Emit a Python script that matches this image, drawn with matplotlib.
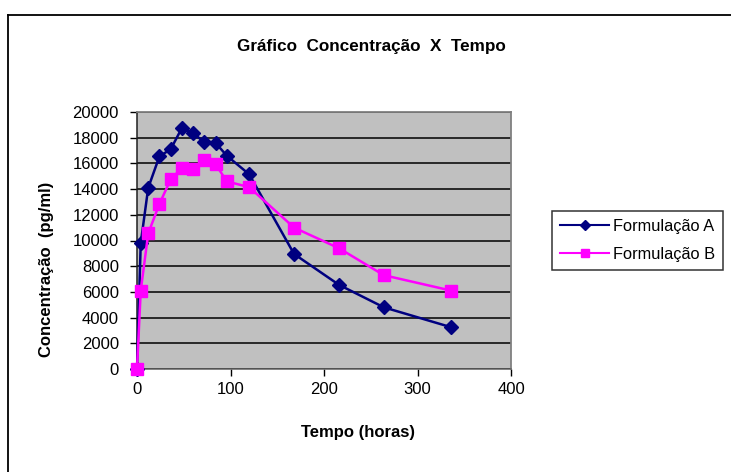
import matplotlib
matplotlib.use("Agg")
from matplotlib import pyplot as plt
from matplotlib.lines import Line2D

plt.rcParams['font.family'] = ['Liberation Sans', 'DejaVu Sans']

# tempo (horas)
tempo = [0, 4, 12, 24, 36, 48, 60, 72, 84, 96, 120, 168, 216, 264, 336]
# concentração (pg/ml)
form_a = [0, 9800, 14100, 16550, 17100, 18750, 18350, 17650, 17600, 16600, 15150, 8950, 6550, 4800, 3250]
form_b = [0, 6100, 10550, 12850, 14750, 15650, 15600, 16250, 15950, 14600, 14150, 11000, 9400, 7300, 6100]
nomes = ["Formulação A", "Formulação B"]
yticks = list(range(0, 20001, 2000))
xticks = [0, 100, 200, 300, 400]

W, H = 731, 472
fig = plt.figure(figsize=(W/100, H/100), dpi=100)
fig.patch.set_facecolor('white')

# moldura externa do gráfico
fig.add_artist(Line2D([8/W, 8/W], [0, 1-15/H], color='black', lw=1.3))
fig.add_artist(Line2D([8/W, 1], [1-15/H, 1-15/H], color='black', lw=1.3))

ax = fig.add_axes([137/W, 1-369/H, (511-137)/W, (369-112)/H])
ax.set_facecolor('#C0C0C0')

ax.plot(tempo, form_a, color='#000080', lw=1.8, marker='D', ms=7.5,
        mfc='#000080', mec='#000080', zorder=3, clip_on=False)
ax.plot(tempo, form_b, color='#FF00FF', lw=1.8, marker='s', ms=8.5,
        mfc='#FF00FF', mec='#FF00FF', zorder=4, clip_on=False)

ax.set_xlim(0, 400)
ax.set_ylim(0, 20000)
ax.set_xticks(xticks)
ax.set_yticks(yticks)
ax.set_yticklabels([str(v) for v in yticks])
ax.yaxis.grid(True, color='black', lw=1.1)
ax.set_axisbelow(True)
ax.tick_params(axis='both', direction='out', length=5, width=1, colors='black',
               labelsize=12)
ax.tick_params(axis='y', pad=8)
ax.tick_params(axis='x', pad=4)
for s in ['top', 'right']:
    ax.spines[s].set_color('#808080')
    ax.spines[s].set_linewidth(1.3)
ax.spines['left'].set_color('#202020')
ax.spines['bottom'].set_color('#606060')
ax.spines['left'].set_linewidth(1.1)
ax.spines['bottom'].set_linewidth(1.1)

fig.text(371/W, 1-47/H, "Gráfico  Concentração  X  Tempo", ha='center', va='center',
         fontsize=12.3, fontweight='bold')
fig.text(47/W, 1-269/H, "Concentração  (pg/ml)", ha='center', va='center',
         rotation=90, fontsize=12, fontweight='bold')
fig.text(358/W, 1-433/H, "Tempo (horas)", ha='center', va='center',
         fontsize=12, fontweight='bold')

handles = [Line2D([], [], color='#000080', lw=1.5, marker='D', ms=5),
           Line2D([], [], color='#FF00FF', lw=1.5, marker='s', ms=6)]
leg = fig.legend(handles, nomes, loc='center',
                 bbox_to_anchor=((550+725)/2/W, 1-(208+273)/2/H),
                 fontsize=11.8, frameon=True, fancybox=False, handlelength=3.0,
                 handletextpad=0.2, labelspacing=0.8, borderpad=0.5)
leg.get_frame().set_edgecolor('black')
leg.get_frame().set_linewidth(1.1)

fig.savefig("out.png", dpi=100)
